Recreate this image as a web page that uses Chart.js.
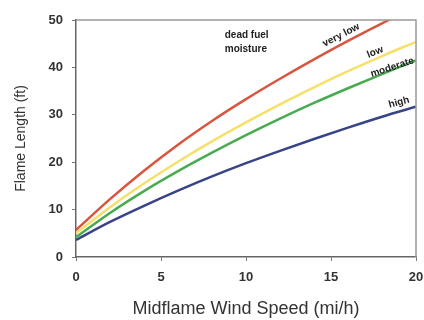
<!DOCTYPE html>
<html>
<head>
<meta charset="utf-8">
<script src="https://cdn.jsdelivr.net/npm/chart.js@4/dist/chart.umd.min.js"></script>
<style>
  html, body { margin: 0; padding: 0; background: #fff; }
  #wrap { width: 424px; height: 320px; }
</style>
</head>
<body>
<div id="wrap"><canvas id="flame-chart" width="424" height="320"></canvas></div>
<script>
// midflame wind speed (mi/h)
const windSpeed = [0, 2, 4, 6, 8, 10, 12, 14, 16, 18, 20];

// flame length (ft) by dead fuel moisture
const veryLow  = [5.7, 12.2, 18.2, 23.7, 28.7, 33.3, 37.6, 41.7, 45.6, 49.3, 52.8];
const low      = [5.0, 10.5, 15.5, 20.1, 24.4, 28.4, 32.2, 35.8, 39.2, 42.4, 45.4];
const moderate = [4.2, 9.3, 13.9, 18.1, 22.0, 25.7, 29.2, 32.5, 35.6, 38.6, 41.5];
const high     = [3.6, 7.4, 10.8, 14.0, 17.0, 19.8, 22.4, 24.9, 27.3, 29.6, 31.7];

const seriesNames = ['very low', 'low', 'moderate', 'high'];
const xTicks = [0, 5, 10, 15, 20];
const yTicks = [0, 10, 20, 30, 40, 50];

const colors = ['#d8553f', '#f6e06a', '#48ab50', '#384488'];
const fontFamily = '"Liberation Sans", Arial, sans-serif';

function toPoints(values) {
    return values.map((v, i) => ({ x: windSpeed[i], y: v }));
}

// text labels placed at data positions
const curveLabels = [
    { text: 'very low', x: 15.6, y: 46.8, angle: -27 },
    { text: 'low', x: 17.6, y: 43.2, angle: -22 },
    { text: 'moderate', x: 18.6, y: 40.0, angle: -18 },
    { text: 'high', x: 19.0, y: 32.6, angle: -15 }
];

const labelPlugin = {
    id: 'labels',
    afterDraw(chart) {
        const ctx = chart.ctx;
        const xs = chart.scales.x;
        const ys = chart.scales.y;
        const area = chart.chartArea;

        // frame on top and right
        ctx.save();
        ctx.strokeStyle = '#9a9a9a';
        ctx.lineWidth = 1.5;
        ctx.beginPath();
        ctx.moveTo(area.left, area.top);
        ctx.lineTo(area.right, area.top);
        ctx.lineTo(area.right, area.bottom);
        ctx.stroke();

        ctx.fillStyle = '#222';
        ctx.font = 'bold 10px ' + fontFamily;
        ctx.textAlign = 'left';
        ctx.textBaseline = 'middle';
        ctx.fillText('dead fuel', xs.getPixelForValue(8.75), ys.getPixelForValue(46.8));
        ctx.fillText('moisture', xs.getPixelForValue(8.75), ys.getPixelForValue(43.9));

        ctx.textAlign = 'center';
        curveLabels.forEach(l => {
            ctx.save();
            ctx.translate(xs.getPixelForValue(l.x), ys.getPixelForValue(l.y));
            ctx.rotate(l.angle * Math.PI / 180);
            ctx.fillText(l.text, 0, 0);
            ctx.restore();
        });
        ctx.restore();
    }
};

const ctx = document.getElementById('flame-chart').getContext('2d');
const chart = new Chart(ctx, {
    type: 'line',
    data: {
        datasets: [veryLow, low, moderate, high].map((d, i) => ({
            label: seriesNames[i],
            data: toPoints(d),
            borderColor: colors[i],
            borderWidth: 2.5,
            cubicInterpolationMode: 'monotone',
            pointRadius: 0,
            fill: false
        }))
    },
    options: {
        responsive: false,
        animation: false,
        layout: {
            padding: { left: 0, right: 0, top: 20, bottom: 0 }
        },
        plugins: {
            legend: { display: false },
            tooltip: { enabled: false }
        },
        scales: {
            x: {
                type: 'linear',
                min: 0,
                max: 20,
                afterBuildTicks: axis => { axis.ticks = xTicks.map(v => ({ value: v })); },
                afterFit: axis => { axis.height = 63; axis.paddingRight = 8; },
                grid: { display: true, drawOnChartArea: false, tickLength: 4, color: '#777' },
                border: { display: true, color: '#666', width: 1.5 },
                ticks: {
                    color: '#333',
                    padding: 9,
                    font: { family: fontFamily, size: 13, weight: 'bold' }
                },
                title: {
                    display: true,
                    text: 'Midflame Wind Speed (mi/h)',
                    color: '#333',
                    padding: { top: 0, bottom: 0 },
                    font: { family: fontFamily, size: 18 }
                }
            },
            y: {
                type: 'linear',
                min: 0,
                max: 50,
                afterBuildTicks: axis => { axis.ticks = yTicks.map(v => ({ value: v })); },
                afterFit: axis => { axis.width = 76; },
                grid: { display: true, drawOnChartArea: false, tickLength: 4, color: '#777' },
                border: { display: true, color: '#666', width: 1.5 },
                ticks: {
                    color: '#333',
                    padding: 9,
                    font: { family: fontFamily, size: 13, weight: 'bold' }
                },
                title: {
                    display: true,
                    text: 'Flame Length (ft)',
                    color: '#333',
                    padding: { top: 13, bottom: 0 },
                    font: { family: fontFamily, size: 14 }
                }
            }
        }
    },
    plugins: [labelPlugin]
});
</script>
</body>
</html>
